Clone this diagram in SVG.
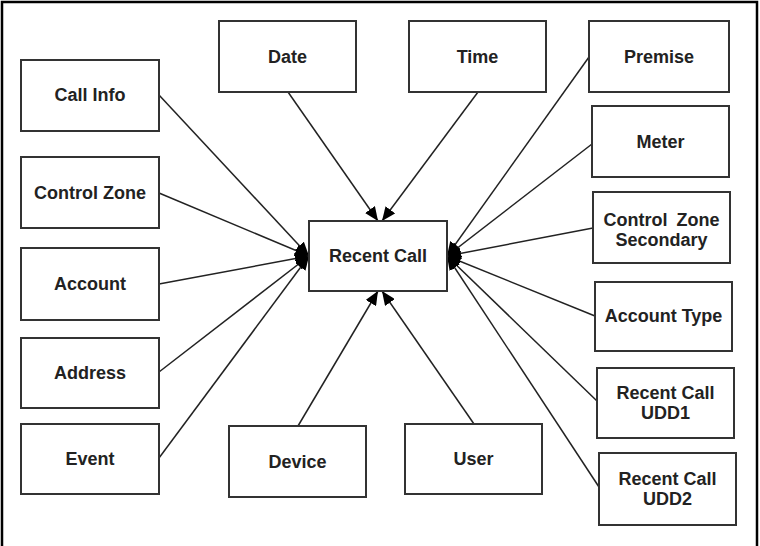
<svg xmlns="http://www.w3.org/2000/svg" width="760" height="546" viewBox="0 0 760 546">
<style>
.box{fill:#fff;stroke:#333;stroke-width:2}
.lbl{font-family:"Liberation Sans",Arial,sans-serif;font-weight:bold;font-size:18px;fill:#222;text-anchor:middle}
.ln{stroke:#222;stroke-width:1.5;fill:none;marker-end:url(#ah)}
</style>
<defs>
<marker id="ah" markerUnits="userSpaceOnUse" markerWidth="15" markerHeight="12" refX="14" refY="6" orient="auto">
<path d="M0,0 L14,6 L0,12 Z" fill="#000"/>
</marker>
</defs>
<rect x="2" y="2" width="755" height="560" fill="#fff" stroke="#000" stroke-width="2.5"/>
<g id="connectors">
<line class="ln" x1="159" y1="95" x2="309" y2="256"/>
<line class="ln" x1="159" y1="193" x2="309" y2="256"/>
<line class="ln" x1="159" y1="284" x2="309" y2="256"/>
<line class="ln" x1="159" y1="372" x2="309" y2="256"/>
<line class="ln" x1="159" y1="458" x2="309" y2="256"/>
<line class="ln" x1="589" y1="57" x2="447" y2="256"/>
<line class="ln" x1="592" y1="144" x2="447" y2="256"/>
<line class="ln" x1="593" y1="228" x2="447" y2="256"/>
<line class="ln" x1="595" y1="316" x2="447" y2="256"/>
<line class="ln" x1="597" y1="401" x2="447" y2="256"/>
<line class="ln" x1="599" y1="487" x2="447" y2="256"/>
<line class="ln" x1="288" y1="92" x2="378" y2="221"/>
<line class="ln" x1="478" y1="92" x2="382" y2="221"/>
<line class="ln" x1="298" y1="426" x2="378" y2="291"/>
<line class="ln" x1="474" y1="424" x2="382" y2="291"/>
</g>
<g id="recent-call"><rect class="box" x="309" y="221" width="138" height="70"/><text class="lbl" x="378" y="262">Recent Call</text></g>
<g id="call-info"><rect class="box" x="21" y="60" width="138" height="71"/><text class="lbl" x="90" y="101">Call Info</text></g>
<g id="control-zone"><rect class="box" x="21" y="157" width="138" height="71"/><text class="lbl" x="90" y="199">Control Zone</text></g>
<g id="account"><rect class="box" x="21" y="248" width="138" height="72"/><text class="lbl" x="90" y="290">Account</text></g>
<g id="address"><rect class="box" x="21" y="338" width="138" height="70"/><text class="lbl" x="90" y="379">Address</text></g>
<g id="event"><rect class="box" x="21" y="424" width="138" height="70"/><text class="lbl" x="90" y="465">Event</text></g>
<g id="date"><rect class="box" x="219" y="21" width="137" height="71"/><text class="lbl" x="287.5" y="63">Date</text></g>
<g id="time"><rect class="box" x="409" y="21" width="137" height="71"/><text class="lbl" x="477.5" y="63">Time</text></g>
<g id="premise"><rect class="box" x="589" y="21" width="140" height="71"/><text class="lbl" x="659" y="63">Premise</text></g>
<g id="meter"><rect class="box" x="592" y="106" width="137" height="71"/><text class="lbl" x="660.5" y="148">Meter</text></g>
<g id="control-zone-secondary"><rect class="box" x="593" y="192" width="137" height="71"/><text class="lbl" x="661.5" y="226" style="word-spacing:4px">Control Zone</text><text class="lbl" x="661.5" y="246">Secondary</text></g>
<g id="account-type"><rect class="box" x="595" y="282" width="137" height="69"/><text class="lbl" x="663.5" y="322">Account Type</text></g>
<g id="recent-call-udd1"><rect class="box" x="597" y="368" width="137" height="70"/><text class="lbl" x="665.5" y="399">Recent Call</text><text class="lbl" x="665.5" y="419">UDD1</text></g>
<g id="recent-call-udd2"><rect class="box" x="599" y="453" width="137" height="72"/><text class="lbl" x="667.5" y="485">Recent Call</text><text class="lbl" x="667.5" y="505">UDD2</text></g>
<g id="device"><rect class="box" x="229" y="426" width="137" height="71"/><text class="lbl" x="297.5" y="468">Device</text></g>
<g id="user"><rect class="box" x="405" y="424" width="137" height="70"/><text class="lbl" x="473.5" y="465">User</text></g>
</svg>
